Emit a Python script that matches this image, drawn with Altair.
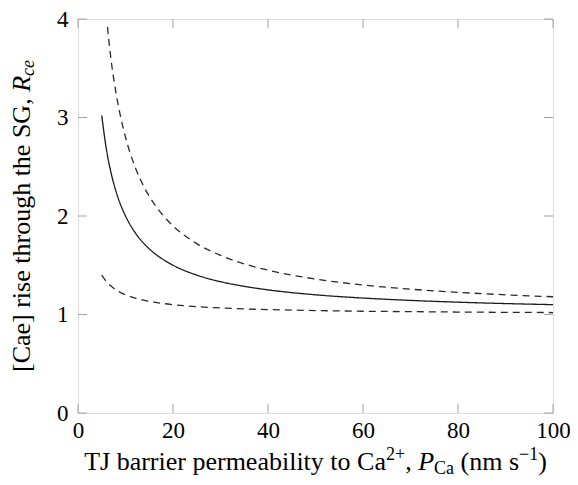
import altair as alt
import pandas as pd

# ---- data ----
x_solid = [5, 6, 7, 8, 9, 10, 12, 14, 16, 18, 20, 25, 30, 35, 40, 50, 60, 70, 80, 90, 100]
y_solid = [3.02, 2.67, 2.43, 2.25, 2.11, 2.00, 1.833, 1.714, 1.625, 1.556, 1.50, 1.40, 1.333,
           1.286, 1.25, 1.20, 1.167, 1.143, 1.125, 1.111, 1.10]

x_upper = [6.2, 7, 8, 9, 10, 12, 14, 16, 18, 20, 25, 30, 35, 40, 50, 60, 70, 80, 90, 100]
y_upper = [3.92, 3.57, 3.25, 3.00, 2.80, 2.50, 2.286, 2.125, 2.00, 1.90, 1.72, 1.60, 1.514,
           1.45, 1.36, 1.30, 1.257, 1.225, 1.20, 1.18]

x_lower = [5, 6, 7, 8, 9, 10, 12, 14, 16, 18, 20, 25, 30, 35, 40, 50, 60, 70, 80, 90, 100]
y_lower = [1.40, 1.333, 1.286, 1.25, 1.222, 1.20, 1.167, 1.143, 1.125, 1.111, 1.10, 1.08, 1.067,
           1.057, 1.05, 1.04, 1.033, 1.029, 1.025, 1.022, 1.02]

x_ticks = [0, 20, 40, 60, 80, 100]
y_ticks = [0, 1, 2, 3, 4]

# ---- layout ----
W, H = 475, 394
FONT = "Liberation Serif, serif"
FS = 26
SUB = 18
TICK_LEN = 9

xs = alt.Scale(domain=[0, 100], nice=False, zero=False)
ys = alt.Scale(domain=[0, 4], nice=False, zero=False)

xax = alt.Axis(values=x_ticks, ticks=False, tickSize=0, domain=False, grid=False, format="d",
               labelFont=FONT, labelFontSize=23, labelColor="black", labelPadding=6,
               labelFlush=False, labelOverlap=False, title=None)
yax = alt.Axis(values=y_ticks, ticks=False, tickSize=0, domain=False, grid=False, format="d",
               labelFont=FONT, labelFontSize=23, labelColor="black", labelPadding=10,
               labelFlush=False, labelOverlap=False, title=None)


def line(xv, yv, dash, color):
    df = pd.DataFrame({"x": xv, "y": yv})
    m = alt.Chart(df).mark_line(color=color, strokeWidth=1.3, interpolate="monotone",
                                strokeDash=dash if dash else [1, 0])
    return m.encode(x=alt.X("x:Q", scale=xs, axis=xax), y=alt.Y("y:Q", scale=ys, axis=yax))


solid = line(x_solid, y_solid, None, "#1a1a1a")
upper = line(x_upper, y_upper, [7, 5], "#2a2a2a")
lower = line(x_lower, y_lower, [7, 5], "#2a2a2a")

tdx = pd.DataFrame({"t": x_ticks})
tdy = pd.DataFrame({"t": y_ticks})
tick_style = dict(color="#8a8a8a", strokeWidth=0.8)
ticks_bottom = alt.Chart(tdx).mark_rule(**tick_style).encode(
    x=alt.X("t:Q", scale=xs), y=alt.value(H), y2=alt.value(H - TICK_LEN))
ticks_top = alt.Chart(tdx).mark_rule(**tick_style).encode(
    x=alt.X("t:Q", scale=xs), y=alt.value(0), y2=alt.value(TICK_LEN))
ticks_left = alt.Chart(tdy).mark_rule(**tick_style).encode(
    y=alt.Y("t:Q", scale=ys), x=alt.value(0), x2=alt.value(TICK_LEN))
ticks_right = alt.Chart(tdy).mark_rule(**tick_style).encode(
    y=alt.Y("t:Q", scale=ys), x=alt.value(W), x2=alt.value(W - TICK_LEN))

# ---- rich titles built from text pieces ----
WR = {" ": 250, "(": 333, ")": 333, "+": 564, ",": 250, "\u2212": 564, "1": 500, "2": 500,
      "[": 333, "]": 333, "C": 667, "G": 722, "J": 389, "P": 556, "R": 667, "S": 556,
      "T": 611, "a": 444, "b": 500, "c": 444, "e": 444, "g": 500, "h": 500, "i": 278,
      "l": 278, "m": 778, "n": 500, "o": 500, "p": 500, "r": 333, "s": 389, "t": 278,
      "u": 500, "y": 500}
WI = {"P": 611, "R": 611, "c": 444, "e": 444}


def tw(s, size, italic):
    return sum((WI.get(c, WR[c]) if italic else WR[c]) for c in s) * size / 1000.0


dummy = pd.DataFrame({"a": [0]})
xtitle = [("TJ barrier permeability to Ca", FS, False, 0),
          ("2+", SUB, False, -10),
          (", ", FS, False, 0),
          ("P", FS, True, 0),
          ("Ca", SUB, False, 4),
          (" (nm s", FS, False, 0),
          ("\u22121", SUB, False, -10),
          (")", FS, False, 0)]
ytitle = [("[Cae] rise through the SG, ", FS, False, 0),
          ("R", FS, True, 0),
          ("ce", SUB, True, 4)]


def piece_kw(t, s, i, rot):
    kw = dict(text=t.strip(), font=FONT, fontSize=s, align="left", baseline="alphabetic",
              color="black")
    if rot:
        kw["angle"] = 270
    if i:
        kw["fontStyle"] = "italic"
    return kw


pieces = []
total = sum(tw(t, s, i) for t, s, i, _ in xtitle)
cx = W / 2 - total / 2
base_y = H + 57
for t, s, i, dy in xtitle:
    lead = tw(t[:len(t) - len(t.lstrip())], s, i)
    pieces.append(alt.Chart(dummy).mark_text(**piece_kw(t, s, i, False)).encode(
        x=alt.value(cx + lead), y=alt.value(base_y + dy)))
    cx += tw(t, s, i)

total = sum(tw(t, s, i) for t, s, i, _ in ytitle)
cy = H / 2 + total / 2
base_x = -48.5
for t, s, i, dy in ytitle:
    lead = tw(t[:len(t) - len(t.lstrip())], s, i)
    pieces.append(alt.Chart(dummy).mark_text(**piece_kw(t, s, i, True)).encode(
        x=alt.value(base_x + dy), y=alt.value(cy - lead)))
    cy -= tw(t, s, i)

chart = alt.layer(ticks_bottom, ticks_top, ticks_left, ticks_right, upper, solid, lower, *pieces).properties(
    width=W, height=H,
    autosize=alt.AutoSizeParams(type="none"),
    padding={"left": 70, "top": 11, "right": 17, "bottom": 64},
).configure_view(stroke="black", strokeWidth=1.3).configure(background="white")

chart.save("out.html", embed_options={"renderer": "svg", "actions": False})
